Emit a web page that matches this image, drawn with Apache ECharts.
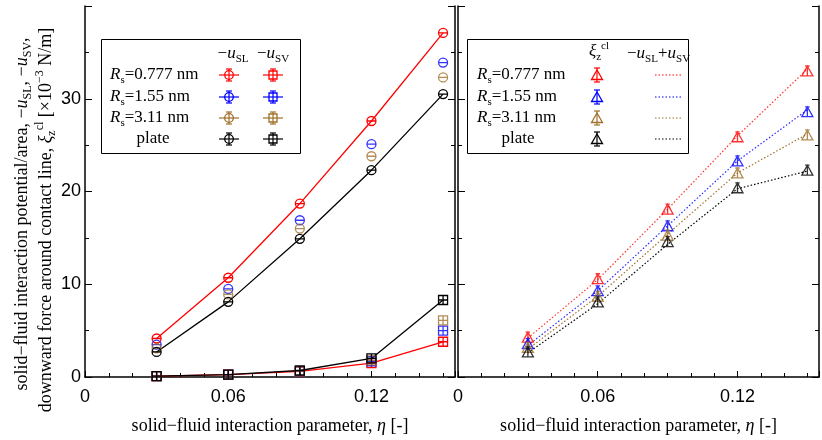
<!DOCTYPE html>
<html>
<head>
<meta charset="utf-8">
<script src="https://cdn.jsdelivr.net/npm/echarts@6/dist/echarts.min.js"></script>
<style>
  html, body { margin: 0; padding: 0; background: #fff; }
  #chart { width: 822px; height: 440px; }
</style>
</head>
<body>
<div id="chart"></div>
<script>
// interaction parameter eta
const eta = [0.03, 0.06, 0.09, 0.12, 0.15];

// -u_SL (circles)
const uSL_0777 = [4.15, 10.7, 18.7, 27.6, 37.1];
const uSL_155 = [3.5, 9.5, 16.9, 25.1, 33.9];
const uSL_311 = [3.1, 8.9, 16.0, 23.8, 32.3];
const uSL_plate = [2.7, 8.1, 14.9, 22.3, 30.5];

// -u_SV (squares)
const uSV_0777 = [0.1, 0.25, 0.6, 1.5, 3.8];
const uSV_155 = [0.1, 0.25, 0.6, 1.7, 5.0];
const uSV_311 = [0.1, 0.25, 0.6, 1.8, 6.1];
const uSV_plate = [0.1, 0.25, 0.7, 2.0, 8.3];

// xi_z^cl (triangles)
const xi_0777 = [4.3, 10.6, 18.1, 25.9, 33.0];
const xi_155 = [3.6, 9.3, 16.3, 23.3, 28.6];
const xi_311 = [3.2, 8.7, 15.3, 22.0, 26.1];
const xi_plate = [2.7, 8.1, 14.6, 20.4, 22.3];

// -u_SL + u_SV (dotted lines)
const diff_0777 = [4.2, 10.5, 18.1, 26.0, 33.2];
const diff_155 = [3.4, 9.3, 16.3, 23.3, 28.8];
const diff_311 = [3.0, 8.7, 15.4, 22.0, 26.2];
const diff_plate = [2.6, 7.9, 14.3, 20.3, 22.2];

const xTicks = [0, 0.06, 0.12];
const yTicks = [0, 10, 20, 30];

const RED = "#ff0000", BLUE = "#0000ff", BROWN = "#a0702a", BLACK = "#000000";
const SERIF = "'Liberation Serif', 'DejaVu Serif', serif";
const SANS = "'Liberation Sans', Arial, sans-serif";

const CIRCLE = "path://M0,-1 A1,1 0 1,1 0,1 A1,1 0 1,1 0,-1 Z M-1,0 L1,0";
const SQUARE = "path://M-1,-1 L1,-1 L1,1 L-1,1 Z M0,-1 L0,1 M-1,0 L1,0";
const TRI = "path://M0,-1 L1,0.8 L-1,0.8 Z M0,-1 L0,0.8 M-0.4,-1 L0.4,-1";

const pts = (arr) => eta.map((x, i) => [x, arr[i]]);

function marks(name, arr, color, symbol, size, withLine, grid) {
  return {
    name, type: withLine ? "line" : "scatter",
    xAxisIndex: grid, yAxisIndex: grid * 2,
    data: pts(arr), symbol, symbolSize: size, symbolKeepAspect: true,
    showSymbol: true,
    itemStyle: { color: "rgba(0,0,0,0)", borderColor: color, borderWidth: 1.3 },
    lineStyle: { color, width: 1.3 },
    emphasis: { disabled: true }, z: 3,
  };
}
function dotted(name, arr, color) {
  return {
    name, type: "line", xAxisIndex: 1, yAxisIndex: 2,
    data: pts(arr), symbol: "none",
    lineStyle: { color, width: 1.2, type: [1.5, 2] },
    emphasis: { disabled: true }, z: 2,
  };
}

const rich = {
  i: { fontFamily: SERIF, fontStyle: "italic", fontSize: 18, lineHeight: 24, verticalAlign: "middle" },
  sub: { fontFamily: SERIF, fontSize: 12, lineHeight: 24, verticalAlign: "bottom" },
  sup: { fontFamily: SERIF, fontSize: 12, lineHeight: 24, verticalAlign: "top" },
};
const legRich = {
  n: { fontFamily: SERIF, fontSize: 17, lineHeight: 22 },
  i: { fontFamily: SERIF, fontStyle: "italic", fontSize: 17, lineHeight: 22 },
  sub: { fontFamily: SERIF, fontSize: 11, lineHeight: 22, verticalAlign: "bottom" },
  sup: { fontFamily: SERIF, fontSize: 11, lineHeight: 22, verticalAlign: "top" },
};

function xAxis(grid) {
  return {
    type: "value", gridIndex: grid, min: 0, max: 0.155, interval: 0.06,
    name: "solid\u2212fluid interaction parameter, {i|\u03b7} [-]",
    nameLocation: "middle", nameGap: 37,
    nameTextStyle: { fontFamily: SERIF, fontSize: 18, color: "#000", rich },
    axisLine: { lineStyle: { color: "#000", width: 1.5 } },
    axisTick: { inside: true, length: 6, lineStyle: { color: "#000" } },
    minorTick: { show: true, splitNumber: 6, length: 4, lineStyle: { color: "#000" } },
    axisLabel: {
      fontFamily: SANS, fontSize: 18, color: "#000", margin: 11,
      formatter: (v) => (xTicks.some((t) => Math.abs(t - v) < 1e-9) ? String(+v.toFixed(2)) : ""),
    },
    splitLine: { show: false },
  };
}
function yAxis(grid, pos, labels) {
  return {
    type: "value", gridIndex: grid, position: pos, min: 0, max: 40, interval: 10,
    axisLine: { show: true, onZero: false, lineStyle: { color: "#000", width: 1.5 } },
    axisTick: { show: true, inside: true, length: 7, lineStyle: { color: "#000" } },
    minorTick: { show: true, splitNumber: 2, length: 4, lineStyle: { color: "#000" } },
    axisLabel: {
      show: labels, fontFamily: SANS, fontSize: 18, color: "#000", margin: 4,
      formatter: (v) => (yTicks.includes(v) ? String(v) : ""),
    },
    splitLine: { show: false },
  };
}

// legend boxes (decoration)
const rowsY = [75, 97, 118, 139];
const rowText = [
  "{i|R}{sub|s}{n|=0.777 nm}",
  "{i|R}{sub|s}{n|=1.55 nm}",
  "{i|R}{sub|s}{n|=3.11 nm}",
  "{n|plate}",
];
const rowColors = [RED, BLUE, BROWN, BLACK];
const g = [];
function txt(x, y, text, align) {
  g.push({ type: "text", x, y, style: { text, rich: legRich, fill: "#000", align: align || "left", verticalAlign: "middle", fontFamily: SERIF, fontSize: 17 }, z: 10 });
}
function seg(x1, y1, x2, y2, color, dash) {
  g.push({ type: "line", shape: { x1, y1, x2, y2 }, style: { stroke: color, lineWidth: 1.2, lineDash: dash || null }, z: 10 });
}
// left legend
g.push({ type: "rect", shape: { x: 101.5, y: 39.5, width: 199, height: 114 }, style: { fill: "#fff", stroke: "#000", lineWidth: 1 }, z: 9 });
txt(233, 54, "{n|\u2212}{i|u}{sub|SL}", "center");
txt(273, 54, "{n|\u2212}{i|u}{sub|SV}", "center");
rowsY.forEach((y, k) => {
  const c = rowColors[k];
  txt(k === 3 ? 153 : 110, y, rowText[k], k === 3 ? "center" : "left");
  // circle marker
  seg(219, y, 239, y, c);
  seg(229, y - 6, 229, y + 6, c);
  seg(226, y - 6, 232, y - 6, c);
  seg(226, y + 6, 232, y + 6, c);
  g.push({ type: "circle", shape: { cx: 229, cy: y, r: 4.3 }, style: { fill: "none", stroke: c, lineWidth: 1.3 }, z: 11 });
  // square marker
  seg(263, y, 283, y, c);
  seg(273, y - 6, 273, y + 6, c);
  seg(270, y - 6, 276, y - 6, c);
  seg(270, y + 6, 276, y + 6, c);
  g.push({ type: "rect", shape: { x: 269, y: y - 4, width: 8, height: 8 }, style: { fill: "none", stroke: c, lineWidth: 1.3 }, z: 11 });
});
// right legend
g.push({ type: "rect", shape: { x: 467.5, y: 39.5, width: 221, height: 114 }, style: { fill: "#fff", stroke: "#000", lineWidth: 1 }, z: 9 });
txt(599, 52, "{i|\u03be}{sub|z}{sup|cl}", "center");
txt(627, 54, "{n|\u2212}{i|u}{sub|SL}{n|+}{i|u}{sub|SV}", "left");
rowsY.forEach((y, k) => {
  const c = rowColors[k];
  txt(k === 3 ? 518 : 477, y, rowText[k], k === 3 ? "center" : "left");
  g.push({ type: "polygon", shape: { points: [[597, y - 5], [602.5, y + 4.5], [591.5, y + 4.5]] }, style: { fill: "none", stroke: c, lineWidth: 1.3 }, z: 11 });
  seg(597, y - 7, 597, y + 7, c);
  seg(594, y - 7, 600, y - 7, c);
  seg(594, y + 7, 600, y + 7, c);
  seg(655, y, 681, y, c, [1.5, 2]);
});
// y axis title (two lines, rotated)
g.push({ type: "text", x: 22, y: 214, rotation: Math.PI / 2, style: { text: "{n|solid\u2212fluid interaction potential/area, \u2212}{i|u}{sub|SL}{n|, \u2212}{i|u}{sub|SV}{n|,}", rich: { n: { fontFamily: SERIF, fontSize: 18, lineHeight: 24 }, i: rich.i, sub: rich.sub }, fill: "#000", align: "center", verticalAlign: "middle" }, z: 10 });
g.push({ type: "text", x: 46, y: 220, rotation: Math.PI / 2, style: { text: "{n|downward force around contact line, }{i|\u03be}{sub|z}{sup|cl}{n| [\u00d710}{sup|\u22123}{n| N/m]}", rich: { n: { fontFamily: SERIF, fontSize: 18, lineHeight: 24 }, i: rich.i, sub: rich.sub, sup: rich.sup }, fill: "#000", align: "center", verticalAlign: "middle" }, z: 10 });

const chart = echarts.init(document.getElementById("chart"), null, { renderer: "canvas" });
chart.setOption({
  animation: false,
  backgroundColor: "#fff",
  grid: [
    { left: 85, top: 6, width: 370, height: 377 },
    { left: 458, top: 6, width: 371, height: 377 },
  ],
  xAxis: [xAxis(0), xAxis(1)],
  yAxis: [yAxis(0, "left", true), yAxis(0, "right", false), yAxis(1, "left", false), yAxis(1, "right", false)],
  series: [
    marks("uSL 0.777", uSL_0777, RED, CIRCLE, 9, true, 0),
    marks("uSL 1.55", uSL_155, BLUE, CIRCLE, 9, false, 0),
    marks("uSL 3.11", uSL_311, BROWN, CIRCLE, 9, false, 0),
    marks("uSL plate", uSL_plate, BLACK, CIRCLE, 9, true, 0),
    marks("uSV 0.777", uSV_0777, RED, SQUARE, 9, true, 0),
    marks("uSV 1.55", uSV_155, BLUE, SQUARE, 9, false, 0),
    marks("uSV 3.11", uSV_311, BROWN, SQUARE, 9, false, 0),
    marks("uSV plate", uSV_plate, BLACK, SQUARE, 9, true, 0),
    dotted("diff 0.777", diff_0777, "#ff3030"),
    dotted("diff 1.55", diff_155, "#2a2aff"),
    dotted("diff 3.11", diff_311, BROWN),
    dotted("diff plate", diff_plate, BLACK),
    marks("xi 0.777", xi_0777, RED, TRI, 11, false, 1),
    marks("xi 1.55", xi_155, BLUE, TRI, 11, false, 1),
    marks("xi 3.11", xi_311, BROWN, TRI, 11, false, 1),
    marks("xi plate", xi_plate, BLACK, TRI, 11, false, 1),
  ],
  graphic: g,
});
</script>
</body>
</html>
